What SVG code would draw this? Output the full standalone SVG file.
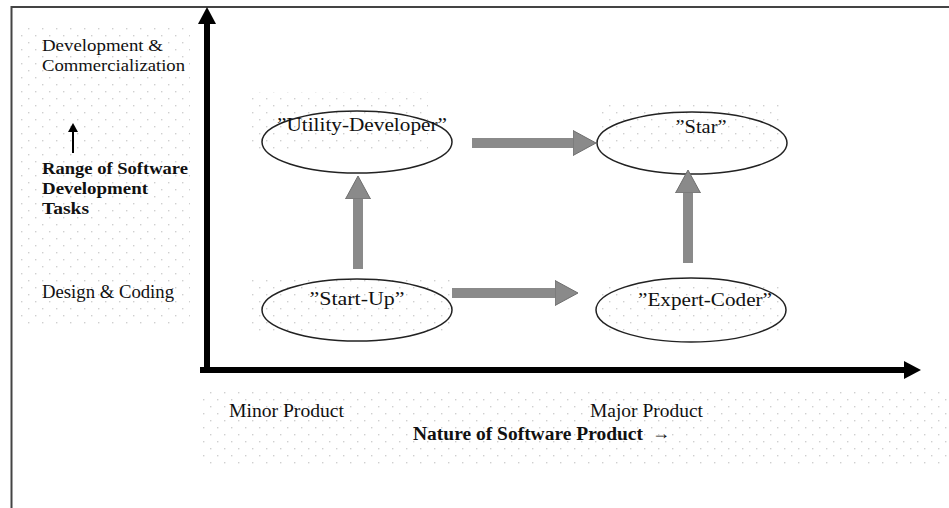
<svg xmlns="http://www.w3.org/2000/svg" width="949" height="508" viewBox="0 0 949 508">
<style>
  .t { font-family: "Liberation Serif", "Times New Roman", serif; font-size: 18px; fill: #111; }
  .s { font-size: 16.5px; }
  .b { font-weight: bold; }
  .node ellipse { fill: none; stroke: #222; stroke-width: 1.5; }
  .dots { fill: url(#dotpat); }
  .block { stroke: #8a8a8a; stroke-width: 10; fill: none; }
  .axis { stroke: #000; stroke-width: 6; fill: none; }
  .frame { stroke: #444; stroke-width: 2; fill: none; }
</style>
<defs>
  <pattern id="dotpat" width="14" height="14" patternUnits="userSpaceOnUse">
    <rect x="0" y="0" width="1.4" height="1.4" fill="#cfcfcf"/>
    <rect x="7" y="7" width="1.4" height="1.4" fill="#cfcfcf"/>
  </pattern>
  <marker id="grayHead" markerUnits="userSpaceOnUse" markerWidth="24" markerHeight="26" refX="1" refY="13" orient="auto">
    <path d="M0,0.5 L23,13 L0,25.5 Z" fill="#8a8a8a" stroke="#6e6e6e" stroke-width="1"/>
  </marker>
  <marker id="blackHead" markerUnits="userSpaceOnUse" markerWidth="18" markerHeight="18" refX="1" refY="9" orient="auto">
    <path d="M0,0 L17,9 L0,18 Z" fill="#000"/>
  </marker>
  <marker id="smallHead" markerUnits="userSpaceOnUse" markerWidth="10" markerHeight="10" refX="1" refY="5" orient="auto">
    <path d="M0,0 L9,5 L0,10 Z" fill="#000"/>
  </marker>
</defs>

<rect width="949" height="508" fill="#fff"/>

<!-- dotted text-box backgrounds -->
<rect class="dots" x="18" y="28" width="172" height="300"/>
<rect class="dots" x="200" y="392" width="749" height="72"/>
<rect class="dots" x="250" y="92" width="178" height="60"/>
<rect class="dots" x="600" y="100" width="184" height="52"/>
<rect class="dots" x="250" y="280" width="200" height="54"/>
<rect class="dots" x="597" y="287" width="186" height="47"/>

<!-- frame -->
<path class="frame" d="M11.5,508 L11.5,7 L949,7"/>

<!-- axes -->
<g id="axes">
  <line class="axis" x1="207" y1="373" x2="207" y2="23" marker-end="url(#blackHead)"/>
  <line class="axis" x1="200" y1="370" x2="905" y2="370" marker-end="url(#blackHead)"/>
</g>

<!-- left axis labels -->
<g id="y-labels">
  <text class="t s" x="42" y="51" textLength="121" lengthAdjust="spacingAndGlyphs">Development &amp;</text>
  <text class="t s" x="42" y="71" textLength="143" lengthAdjust="spacingAndGlyphs">Commercialization</text>
  <line x1="73" y1="153" x2="73" y2="131" stroke="#000" stroke-width="2" marker-end="url(#smallHead)"/>
  <text class="t s b" x="42" y="174" textLength="146" lengthAdjust="spacingAndGlyphs">Range of Software</text>
  <text class="t s b" x="42" y="194" textLength="106" lengthAdjust="spacingAndGlyphs">Development</text>
  <text class="t s b" x="42" y="214" textLength="47" lengthAdjust="spacingAndGlyphs">Tasks</text>
  <text class="t" x="42" y="298" textLength="132" lengthAdjust="spacingAndGlyphs">Design &amp; Coding</text>
</g>

<!-- bottom axis labels -->
<g id="x-labels">
  <text class="t" x="229" y="417" textLength="115" lengthAdjust="spacingAndGlyphs">Minor Product</text>
  <text class="t" x="590" y="417" textLength="113" lengthAdjust="spacingAndGlyphs">Major Product</text>
  <text class="t b" x="413" y="440" textLength="230" lengthAdjust="spacingAndGlyphs">Nature of Software Product</text>
  <text class="t" x="661" y="439" font-size="24" text-anchor="middle">→</text>
</g>

<!-- nodes -->
<g id="utility-developer" class="node">
  <ellipse cx="357" cy="142" rx="95" ry="31"/>
  <text class="t" x="362" y="131" text-anchor="middle" textLength="170" lengthAdjust="spacingAndGlyphs">”Utility-Developer”</text>
</g>
<g id="star" class="node">
  <ellipse cx="692" cy="143" rx="95" ry="31"/>
  <text class="t" x="701" y="133" text-anchor="middle" textLength="51" lengthAdjust="spacingAndGlyphs">”Star”</text>
</g>
<g id="start-up" class="node">
  <ellipse cx="357" cy="310" rx="95" ry="31"/>
  <text class="t" x="357" y="305" text-anchor="middle" textLength="95" lengthAdjust="spacingAndGlyphs">”Start-Up”</text>
</g>
<g id="expert-coder" class="node">
  <ellipse cx="691" cy="310" rx="95" ry="32"/>
  <text class="t" x="705" y="306" text-anchor="middle" textLength="134" lengthAdjust="spacingAndGlyphs">”Expert-Coder”</text>
</g>

<!-- connectors -->
<g id="connectors">
  <line class="block" x1="472" y1="143" x2="574" y2="143" marker-end="url(#grayHead)"/>
  <line class="block" x1="452" y1="293" x2="556" y2="293" marker-end="url(#grayHead)"/>
  <line class="block" x1="358" y1="269" x2="358" y2="198" marker-end="url(#grayHead)"/>
  <line class="block" x1="688" y1="263" x2="688" y2="192" marker-end="url(#grayHead)"/>
</g>
</svg>
